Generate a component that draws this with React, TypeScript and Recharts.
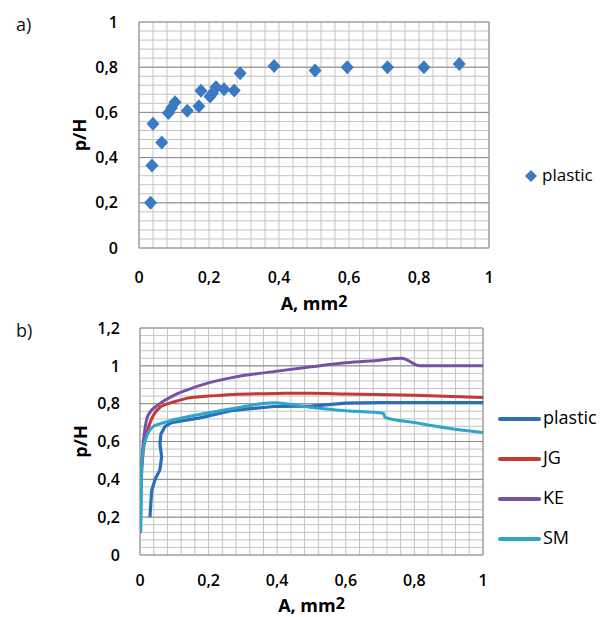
import React from 'react';
import {
  ScatterChart,
  Scatter,
  LineChart,
  Line,
  XAxis,
  YAxis,
  Legend,
  Label,
  ReferenceLine,
} from 'recharts';

const FONT = '"Open Sans", "Liberation Sans", sans-serif';

// ---------- chart a) data ----------
const scatterX = [0.033, 0.037, 0.04, 0.065, 0.084, 0.093, 0.103, 0.138, 0.171, 0.177, 0.203, 0.21, 0.22, 0.243, 0.272, 0.289, 0.386, 0.503, 0.595, 0.71, 0.814, 0.915];
const scatterY = [0.2, 0.365, 0.55, 0.467, 0.597, 0.62, 0.645, 0.607, 0.627, 0.696, 0.67, 0.685, 0.711, 0.702, 0.697, 0.773, 0.805, 0.785, 0.8, 0.8, 0.8, 0.814];

// ---------- chart b) data ----------
const seriesNames = ['plastic', 'JG', 'KE', 'SM'];

const plasticX = [0.029, 0.034, 0.044, 0.058, 0.063, 0.06, 0.058, 0.061, 0.073, 0.092, 0.13, 0.175, 0.272, 0.39, 0.5, 0.6, 0.7, 0.8, 1.0];
const plasticY = [0.2, 0.34, 0.4, 0.45, 0.52, 0.56, 0.59, 0.64, 0.68, 0.7, 0.712, 0.725, 0.765, 0.785, 0.787, 0.803, 0.805, 0.805, 0.805];

const jgX = [0.004, 0.01, 0.019, 0.034, 0.058, 0.1, 0.136, 0.2, 0.272, 0.4, 0.5, 0.6, 0.8, 1.0];
const jgY = [0.42, 0.56, 0.64, 0.72, 0.78, 0.81, 0.828, 0.84, 0.849, 0.854, 0.855, 0.851, 0.844, 0.833];

const keX = [0.004, 0.01, 0.024, 0.058, 0.1, 0.136, 0.2, 0.272, 0.4, 0.5, 0.6, 0.7, 0.763, 0.816, 1.0];
const keY = [0.47, 0.6, 0.74, 0.8, 0.845, 0.872, 0.91, 0.939, 0.972, 0.995, 1.016, 1.03, 1.04, 1.0, 1.0];

const smX = [0.002, 0.004, 0.005, 0.01, 0.019, 0.039, 0.07, 0.136, 0.2, 0.272, 0.39, 0.5, 0.6, 0.71, 0.714, 0.8, 0.9, 1.0];
const smY = [0.115, 0.3, 0.467, 0.56, 0.625, 0.68, 0.7, 0.73, 0.752, 0.775, 0.805, 0.78, 0.763, 0.749, 0.728, 0.7, 0.67, 0.647];

// ---------- ticks ----------
const xTicks = [0, 0.2, 0.4, 0.6, 0.8, 1];
const yTicksA = [0, 0.2, 0.4, 0.6, 0.8, 1];
const yTicksB = [0, 0.2, 0.4, 0.6, 0.8, 1, 1.2];
const minorX = Array.from({ length: 26 }, (_, i) => Math.round(i * 4) / 100);
const minorYA = Array.from({ length: 26 }, (_, i) => Math.round(i * 4) / 100);
const minorYB = Array.from({ length: 31 }, (_, i) => Math.round(i * 4) / 100);

const zip = (xs: number[], ys: number[]) => xs.map((x, i) => ({ x, y: ys[i] }));
const scatterData = zip(scatterX, scatterY);
const plasticData = zip(plasticX, plasticY);
const jgData = zip(jgX, jgY);
const keData = zip(keX, keY);
const smData = zip(smX, smY);

const C_DIAMOND = '#3b79c1';
const C_PLASTIC = '#2a6db8';
const C_JG = '#c13a34';
const C_KE = '#7a4fa7';
const C_SM = '#2ea6cc';

const MINOR = '#c4c4c4';
const MAJOR = '#8a8a8a';

const fmt = (v: number) => String(v).replace('.', ',');
const tickStyle = { fill: '#000', fontSize: 16, fontWeight: 600, fontFamily: FONT };

const gridLines = (prefix: string, xs: number[], ys: number[], majorsY: number[]) => [
  ...xs.map((v) => (
    <ReferenceLine key={`${prefix}mx${v}`} x={v} stroke={MINOR} strokeWidth={1} ifOverflow="visible" />
  )),
  ...ys.map((v) => (
    <ReferenceLine key={`${prefix}my${v}`} y={v} stroke={MINOR} strokeWidth={1} ifOverflow="visible" />
  )),
  ...majorsY.map((v) => (
    <ReferenceLine key={`${prefix}My${v}`} y={v} stroke={MAJOR} strokeWidth={1} ifOverflow="visible" />
  )),
  <ReferenceLine key={`${prefix}Mx0`} x={0} stroke={MAJOR} ifOverflow="visible" />,
  <ReferenceLine key={`${prefix}Mx1`} x={1} stroke={MAJOR} ifOverflow="visible" />,
];

const Diamond = (props: any) => {
  const { cx, cy, fill } = props;
  if (cx == null || cy == null) return null;
  return (
    <path
      d={`M${cx},${cy - 7}L${cx + 6.5},${cy}L${cx},${cy + 7}L${cx - 6.5},${cy}Z`}
      fill={fill}
    />
  );
};

const makeXLabel = (offset: number) => (props: any) => {
  const vb = props.viewBox || {};
  const cx = vb.x + vb.width / 2;
  const y = vb.y + offset;
  return (
    <text x={cx} y={y} textAnchor="middle" fontFamily={FONT} fontWeight={700} fontSize={18} fill="#000">
      <tspan>A, mm</tspan>
      <tspan dy={-3} fontSize={16}>2</tspan>
    </text>
  );
};

const makeYLabel = (cxPos: number) => (props: any) => {
  const vb = props.viewBox || {};
  const cy = vb.y + vb.height / 2;
  return (
    <text
      x={cxPos}
      y={cy}
      dy="0.35em"
      textAnchor="middle"
      transform={`rotate(-90, ${cxPos}, ${cy})`}
      fontFamily={FONT}
      fontWeight={700}
      fontSize={18}
      fill="#000"
    >
      p/H
    </text>
  );
};

const LegendA = (props: any) => {
  const payload = props.payload || [];
  return (
    <svg width={88} height={26} style={{ display: 'block' }}>
      {payload.map((p: any, i: number) => (
        <g key={i}>
          <path d="M16,6L22,12L16,18L10,12Z" fill={p.color} />
          <text x={27} y={11} dy="0.35em" fontFamily={FONT} fontSize={17} fill="#000">
            {p.value}
          </text>
        </g>
      ))}
    </svg>
  );
};

const LegendB = (props: any) => {
  const payload = [...(props.payload || [])].sort(
    (a: any, b: any) => seriesNames.indexOf(a.value) - seriesNames.indexOf(b.value)
  );
  return (
    <svg width={108} height={170} style={{ display: 'block' }}>
      {payload.map((p: any, i: number) => {
        const y = 24 + i * 40;
        return (
          <g key={i}>
            <line x1={5} x2={44} y1={y} y2={y} stroke={p.color} strokeWidth={4} strokeLinecap="round" />
            <text x={48} y={y - 1} dy="0.35em" fontFamily={FONT} fontSize={18} fill="#000">
              {p.value}
            </text>
          </g>
        );
      })}
    </svg>
  );
};

export default function App() {
  return (
    <div
      style={{
        position: 'absolute',
        left: 0,
        top: 0,
        width: 603,
        height: 617,
        background: '#fff',
        overflow: 'hidden',
        fontFamily: FONT,
      }}
    >
      <div style={{ position: 'absolute', left: 0, top: 0 }}>
        <ScatterChart width={603} height={316} margin={{ top: 22, right: 114, bottom: 0, left: 0 }}>
          {gridLines('a', minorX, minorYA, yTicksA)}
          <XAxis
            type="number"
            dataKey="x"
            domain={[0, 1]}
            ticks={xTicks}
            tickFormatter={fmt}
            height={68}
            tickSize={0}
            tickMargin={24}
            axisLine={false}
            tickLine={false}
            tick={tickStyle}
            allowDataOverflow
          >
            <Label content={makeXLabel(62)} />
          </XAxis>
          <YAxis
            type="number"
            dataKey="y"
            domain={[0, 1]}
            ticks={yTicksA}
            tickFormatter={fmt}
            width={139}
            tickSize={0}
            tickMargin={21}
            axisLine={false}
            tickLine={false}
            tick={tickStyle}
            allowDataOverflow
          >
            <Label content={makeYLabel(80)} />
          </YAxis>
          <Legend
            content={LegendA}
            layout="horizontal"
            verticalAlign="middle"
            align="center"
            wrapperStyle={{ position: 'absolute', left: 515, top: 164, width: 88, height: 26 }}
          />
          <Scatter
            name="plastic"
            data={scatterData}
            fill={C_DIAMOND}
            shape={Diamond}
            isAnimationActive={false}
          />
        </ScatterChart>
      </div>

      <div style={{ position: 'absolute', left: 0, top: 316 }}>
        <LineChart width={603} height={301} margin={{ top: 12, right: 120, bottom: 0, left: 0 }}>
          {gridLines('b', minorX, minorYB, yTicksB)}
          <XAxis
            type="number"
            dataKey="x"
            domain={[0, 1]}
            ticks={xTicks}
            tickFormatter={fmt}
            height={62}
            tickSize={0}
            tickMargin={20}
            axisLine={false}
            tickLine={false}
            tick={tickStyle}
            allowDataOverflow
            allowDuplicatedCategory={false}
          >
            <Label content={makeXLabel(56.5)} />
          </XAxis>
          <YAxis
            type="number"
            domain={[0, 1.2]}
            ticks={yTicksB}
            tickFormatter={fmt}
            width={140}
            tickSize={0}
            tickMargin={20}
            axisLine={false}
            tickLine={false}
            tick={tickStyle}
            allowDataOverflow
          >
            <Label content={makeYLabel(81)} />
          </YAxis>
          <Legend
            content={LegendB}
            layout="horizontal"
            verticalAlign="middle"
            align="center"
            wrapperStyle={{ position: 'absolute', left: 495, top: 79, width: 108, height: 170 }}
          />
          <Line name="plastic" data={plasticData} dataKey="y" type="linear" stroke={C_PLASTIC} strokeWidth={3.2} dot={false} activeDot={false} isAnimationActive={false} />
          <Line name="JG" data={jgData} dataKey="y" type="monotone" stroke={C_JG} strokeWidth={3} dot={false} activeDot={false} isAnimationActive={false} />
          <Line name="KE" data={keData} dataKey="y" type="monotone" stroke={C_KE} strokeWidth={3} dot={false} activeDot={false} isAnimationActive={false} />
          <Line name="SM" data={smData} dataKey="y" type="monotone" stroke={C_SM} strokeWidth={3} dot={false} activeDot={false} isAnimationActive={false} />
        </LineChart>
      </div>

      <svg
        width={603}
        height={617}
        style={{ position: 'absolute', left: 0, top: 0, pointerEvents: 'none' }}
      >
        <text x={16} y={31} fontFamily={FONT} fontSize={18} fill="#111">a)</text>
        <text x={16} y={337} fontFamily={FONT} fontSize={18} fill="#111">b)</text>
      </svg>
    </div>
  );
}
